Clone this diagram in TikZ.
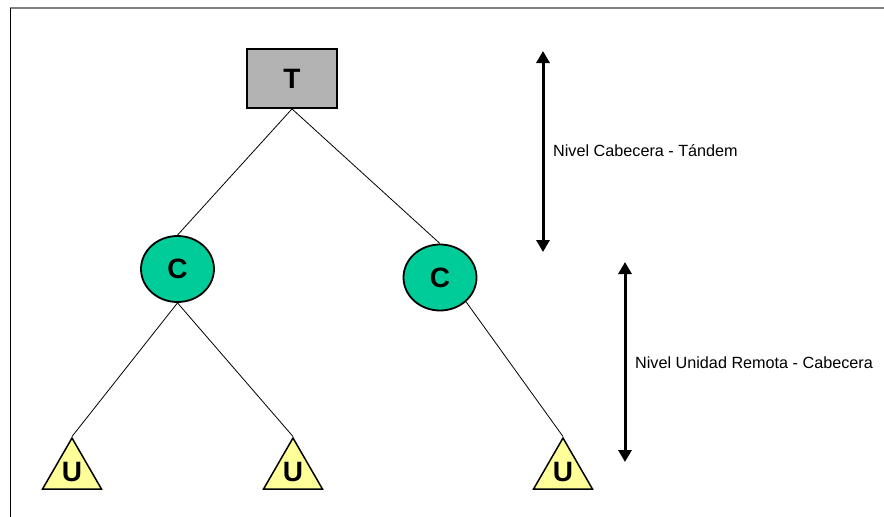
\documentclass[tikz,border=0pt]{standalone}
\usepackage{fontspec}
\setmainfont{Liberation Sans}
\usetikzlibrary{shapes.geometric,arrows.meta}
\definecolor{tgray}{RGB}{179,179,179}
\definecolor{cgreen}{RGB}{0,204,153}
\definecolor{uyellow}{RGB}{255,255,153}
\definecolor{framegray}{RGB}{128,128,128}
\tikzset{
  tbox/.style={draw=black, line width=1.8pt, fill=tgray, rectangle, minimum width=90pt, minimum height=59pt, inner sep=0pt, font=\fontsize{28}{30}\selectfont\bfseries},
  cnode/.style={draw=black, line width=1.8pt, fill=cgreen, ellipse, minimum width=73pt, minimum height=66pt, inner sep=0pt, font=\fontsize{28}{30}\selectfont\bfseries},
  utri/.style={draw=black, line width=1.5pt, fill=uyellow, regular polygon, regular polygon sides=3, minimum size=68pt, inner sep=0pt},
  ulbl/.style={inner sep=0pt, font=\fontsize{28}{30}\selectfont\bfseries},
  link/.style={draw=black, line width=0.8pt},
  level/.style={draw=black, line width=3pt, {Triangle[width=13pt,length=12pt]}-{Triangle[width=13pt,length=12pt]}},
  lvltext/.style={anchor=west, inner sep=0pt, font=\fontsize{16.2}{18}\selectfont},
}
\begin{document}
\begin{tikzpicture}[x=1pt,y=-1pt]
\useasboundingbox (0,0) rectangle (884,517);
% frame
\coordinate (f1) at (10,8);
\coordinate (f2) at (884,8);
\coordinate (f3) at (10,517);
\draw[framegray, line width=2pt] (f1) -- (f2);
\draw[black, line width=1pt] (f1) -- (f3);
% nodes
\node[tbox] (T) at (292,78.5) {T};
\node[cnode] (C1) at (177.5,269) {C};
\node[cnode] (C2) at (440,277.5) {C};
\node[utri] (U1) at (72,472) {};
\node[utri] (U2) at (293,472) {};
\node[utri] (U3) at (563,472) {};
\node[ulbl] (U1l) at (U1.center) {U};
\node[ulbl] (U2l) at (U2.center) {U};
\node[ulbl] (U3l) at (U3.center) {U};
% links
\draw[link] (T.south) -- (C1.north);
\draw[link] (T.south) -- (C2.north);
\draw[link] (C1.south) -- (U1.corner 1);
\draw[link] (C1.south) -- (U2.corner 1);
\draw[link] (C2.-43) -- (U3.corner 1);
% level arrows
\coordinate (a1t) at (543,51);
\coordinate (a1b) at (543,252);
\coordinate (a2t) at (625,262);
\coordinate (a2b) at (625,462);
\draw[level] (a1t) -- (a1b);
\draw[level] (a2t) -- (a2b);
\node[lvltext] (L1) at (553,151) {Nivel Cabecera - Tándem};
\node[lvltext] (L2) at (635,363) {Nivel Unidad Remota - Cabecera};
\end{tikzpicture}
\end{document}
